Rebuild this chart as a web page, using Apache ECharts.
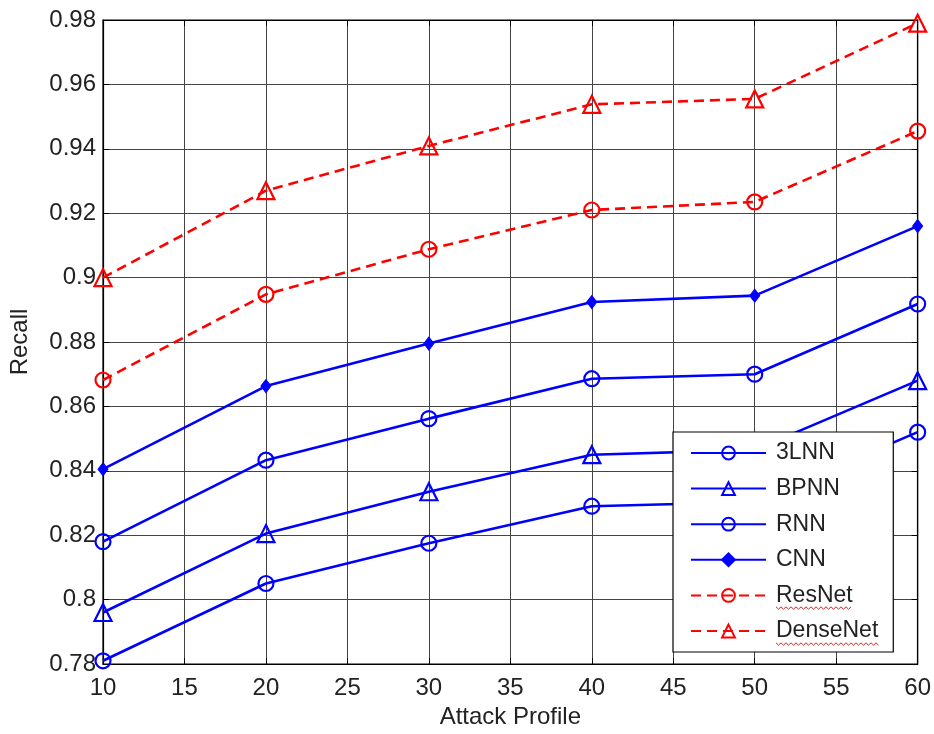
<!DOCTYPE html>
<html>
<head>
<meta charset="utf-8">
<script src="https://cdn.jsdelivr.net/npm/echarts@6/dist/echarts.min.js"></script>
<style>html,body{margin:0;padding:0;background:#fff}#c{width:934px;height:734px}</style>
</head>
<body>
<div id="c"></div>
<script>
const xValues = [10, 20, 30, 40, 50, 60];
const lnn3 = [0.781, 0.805, 0.8175, 0.829, 0.8303, 0.852];
const bpnn = [0.796, 0.8205, 0.8335, 0.845, 0.8465, 0.868];
const rnn = [0.818, 0.8433, 0.8562, 0.8686, 0.870, 0.8918];
const cnn = [0.8405, 0.8663, 0.8795, 0.8924, 0.8944, 0.916];
const resnet = [0.8682, 0.8948, 0.9088, 0.921, 0.9235, 0.9455];
const densenet = [0.900, 0.927, 0.9409, 0.9538, 0.9555, 0.979];
const seriesNames = ['3LNN', 'BPNN', 'RNN', 'CNN', 'ResNet', 'DenseNet'];

const BLUE = '#0000ff', RED = '#ff0000';
function pairs(arr) { return xValues.map((x, i) => [x, arr[i]]); }
function mk(name, data, color, symbol, size, dashed, filled) {
  return {
    name, type: 'line', data: pairs(data), symbol, symbolSize: size,
    showSymbol: true, xAxisIndex: 0, yAxisIndex: 0,
    lineStyle: { color, width: 2.6, type: dashed ? [10, 6] : 'solid' },
    itemStyle: filled ? { color, borderColor: color, borderWidth: 1 } : { color: 'rgba(0,0,0,0)', borderColor: color, borderWidth: 2.2 },
    emphasis: { disabled: true },
    z: 3
  };
}
// wavy "spell-check" underline drawn under a legend word
function wavy(x0, x1, y) {
  const pts = [];
  let up = true;
  for (let x = x0; x <= x1; x += 2.5) { pts.push([x, y + (up ? -1.2 : 1.2)]); up = !up; }
  return { type: 'polyline', shape: { points: pts }, style: { stroke: '#e02020', lineWidth: 1, fill: null }, z: 100 };
}
const chart = echarts.init(document.getElementById('c'));
const font = 'Liberation Sans, Arial, sans-serif';
const TXT = '#222';
const gridLine = { show: true, lineStyle: { color: '#444', width: 1 } };
chart.setOption({
  animation: false,
  backgroundColor: '#fff',
  grid: { left: 103, right: 13, top: 20, bottom: 70, show: true, borderColor: '#000', borderWidth: 1.2, backgroundColor: 'transparent' },
  xAxis: [{
    type: 'value', min: 10, max: 60, interval: 5,
    name: 'Attack Profile', nameLocation: 'middle', nameGap: 40,
    nameTextStyle: { fontSize: 24, color: TXT, fontFamily: font },
    axisLine: { show: true, lineStyle: { color: '#000', width: 1.2 } },
    axisTick: { inside: true, length: 6, lineStyle: { color: '#000' } },
    axisLabel: { fontSize: 24, color: TXT, fontFamily: font, margin: 12 },
    splitLine: gridLine
  }, {
    type: 'value', min: 10, max: 60, interval: 5, position: 'top',
    axisLine: { show: true, lineStyle: { color: '#000', width: 1.2 } },
    axisTick: { inside: true, length: 6, lineStyle: { color: '#000' } },
    axisLabel: { show: false }, splitLine: { show: false }
  }],
  yAxis: [{
    type: 'value', min: 0.78, max: 0.98, interval: 0.02,
    name: 'Recall', nameLocation: 'middle', nameGap: 71, nameRotate: 90,
    nameTextStyle: { fontSize: 24, color: TXT, fontFamily: font },
    axisLine: { show: true, lineStyle: { color: '#000', width: 1.2 } },
    axisTick: { inside: true, length: 6, lineStyle: { color: '#000' } },
    axisLabel: { fontSize: 24, color: TXT, fontFamily: font, margin: 7,
      formatter: v => String(parseFloat(v.toFixed(2))) },
    splitLine: gridLine
  }, {
    type: 'value', min: 0.78, max: 0.98, interval: 0.02, position: 'right',
    axisLine: { show: true, lineStyle: { color: '#000', width: 1.2 } },
    axisTick: { inside: true, length: 6, lineStyle: { color: '#000' } },
    axisLabel: { show: false }, splitLine: { show: false }
  }],
  legend: {
    orient: 'vertical', left: 673, top: 432,
    data: seriesNames,
    itemWidth: 75, itemHeight: 16, itemGap: 12.6,
    padding: [9.5, 15, 9.5, 17],
    backgroundColor: '#fff', borderColor: '#000', borderWidth: 1.2,
    textStyle: { fontSize: 23, color: TXT, fontFamily: font, padding: [0, 0, 0, 5], lineHeight: 23 },
    selectedMode: false
  },
  graphic: [wavy(776, 853, 608), wavy(776, 879, 644)],
  series: [
    mk('3LNN', lnn3, BLUE, 'circle', 15, false, false),
    mk('BPNN', bpnn, BLUE, 'triangle', 17, false, false),
    mk('RNN', rnn, BLUE, 'circle', 15, false, false),
    mk('CNN', cnn, BLUE, 'diamond', [10, 13], false, true),
    mk('ResNet', resnet, RED, 'circle', 15, true, false),
    mk('DenseNet', densenet, RED, 'triangle', 17, true, false)
  ]
});
</script>
</body>
</html>
